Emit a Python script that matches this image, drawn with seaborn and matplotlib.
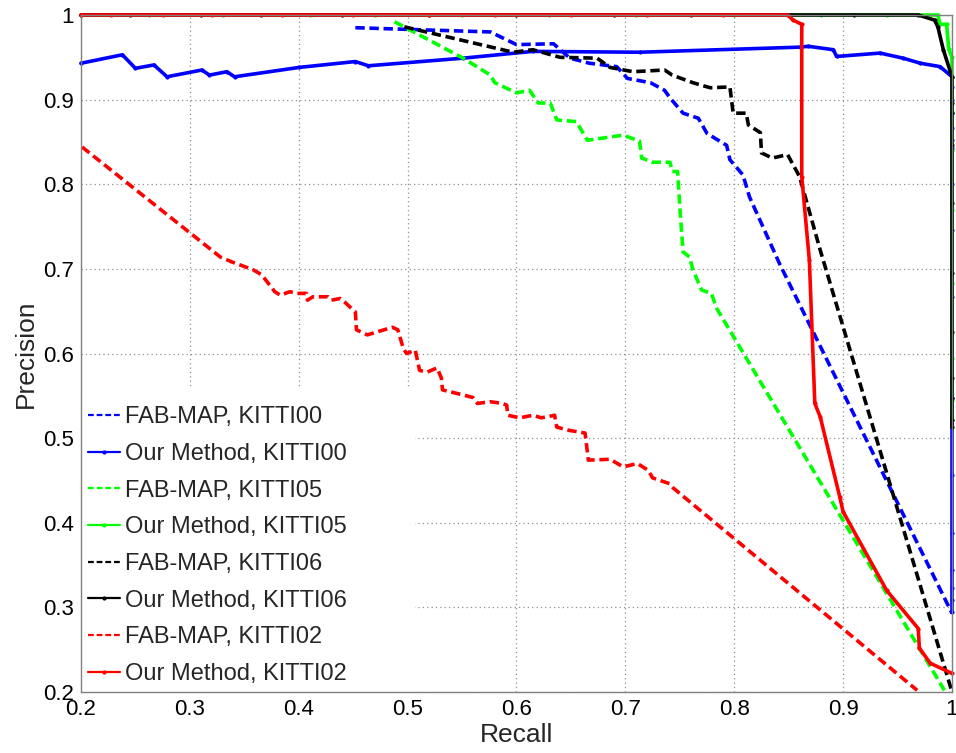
import matplotlib
matplotlib.use("Agg")
import matplotlib.pyplot as plt
import seaborn as sns
import pandas as pd
from matplotlib.patches import Rectangle

# ---- data (recall, precision) ----
fab00_recall = [0.452, 0.500, 0.576, 0.600, 0.634, 0.649, 0.667, 0.692, 0.702, 0.723,
                0.736, 0.741, 0.753, 0.767, 0.775, 0.793, 0.796, 0.808, 0.814, 0.842, 1.000]
fab00_prec = [0.985, 0.983, 0.980, 0.965, 0.966, 0.949, 0.943, 0.939, 0.925, 0.920,
              0.911, 0.902, 0.884, 0.878, 0.860, 0.846, 0.829, 0.811, 0.785, 0.705, 0.293]

our00_recall = [0.200, 0.238, 0.250, 0.267, 0.279, 0.311, 0.318, 0.334, 0.341, 0.400,
                0.452, 0.464, 0.551, 0.615, 0.713, 0.860, 0.868, 0.891, 0.894, 0.934,
                0.955, 0.971, 0.989, 1.000, 1.000, 1.000, 1.000, 1.000, 1.000, 1.000,
                1.000, 1.000, 1.000, 1.000, 1.000, 1.000, 1.000, 1.000, 1.000, 1.000]
our00_prec = [0.943, 0.953, 0.937, 0.941, 0.927, 0.935, 0.929, 0.933, 0.927, 0.938,
              0.945, 0.940, 0.949, 0.957, 0.956, 0.962, 0.963, 0.959, 0.951, 0.955,
              0.949, 0.943, 0.939, 0.927, 0.915, 0.900, 0.884, 0.866, 0.852, 0.843,
              0.800, 0.746, 0.667, 0.548, 0.456, 0.388, 0.344, 0.323, 0.309, 0.294]

fab05_recall = [0.488, 0.551, 0.576, 0.580, 0.600, 0.612, 0.620, 0.631, 0.637, 0.655,
                0.665, 0.698, 0.713, 0.715, 0.725, 0.741, 0.743, 0.748, 0.750, 0.753,
                0.759, 0.762, 0.770, 0.779, 0.784, 0.993]
fab05_prec = [0.992, 0.949, 0.929, 0.920, 0.908, 0.911, 0.896, 0.896, 0.876, 0.874,
              0.852, 0.858, 0.851, 0.831, 0.826, 0.826, 0.815, 0.815, 0.773, 0.720,
              0.714, 0.699, 0.675, 0.671, 0.653, 0.202]

our05_recall = [0.200, 0.262, 0.330, 0.410, 0.470, 0.550, 0.630, 0.710, 0.800, 0.880,
                0.940, 0.987, 0.989, 0.995, 0.997, 1.000, 1.000, 1.000, 1.000, 1.000,
                1.000, 1.000, 1.000]
our05_prec = [1.000, 1.000, 1.000, 1.000, 1.000, 1.000, 1.000, 1.000, 1.000, 1.000,
              1.000, 1.000, 0.989, 0.989, 0.960, 0.950, 0.885, 0.840, 0.770, 0.683,
              0.595, 0.545, 0.521]

fab06_recall = [0.497, 0.597, 0.615, 0.640, 0.674, 0.686, 0.707, 0.736, 0.743, 0.762,
                0.778, 0.796, 0.799, 0.811, 0.813, 0.824, 0.825, 0.835, 0.849, 0.860,
                0.879, 1.000]
fab06_prec = [0.986, 0.956, 0.959, 0.950, 0.949, 0.938, 0.933, 0.935, 0.929, 0.920,
              0.914, 0.915, 0.884, 0.884, 0.870, 0.861, 0.837, 0.831, 0.835, 0.809,
              0.722, 0.200]

our06_recall = [0.200, 0.245, 0.310, 0.365, 0.440, 0.520, 0.600, 0.690, 0.760, 0.850,
                0.910, 0.969, 0.984, 0.987, 0.992, 1.000, 1.000, 1.000, 1.000, 1.000,
                1.000, 1.000, 1.000, 1.000, 1.000, 1.000]
our06_prec = [1.000, 1.000, 1.000, 1.000, 1.000, 1.000, 1.000, 1.000, 1.000, 1.000,
              1.000, 1.000, 0.994, 0.986, 0.959, 0.927, 0.896, 0.884, 0.846, 0.778,
              0.695, 0.625, 0.571, 0.547, 0.521, 0.513]

fab02_recall = [0.201, 0.328, 0.339, 0.358, 0.366, 0.378, 0.383, 0.392, 0.398, 0.407,
                0.408, 0.413, 0.427, 0.430, 0.438, 0.442, 0.452, 0.453, 0.463, 0.486,
                0.491, 0.496, 0.499, 0.507, 0.511, 0.518, 0.527, 0.531, 0.532, 0.551,
                0.560, 0.564, 0.576, 0.587, 0.591, 0.592, 0.603, 0.615, 0.623, 0.635,
                0.637, 0.649, 0.663, 0.666, 0.686, 0.698, 0.711, 0.721, 0.725, 0.741,
                0.744, 0.968]
fab02_prec = [0.844, 0.714, 0.708, 0.699, 0.693, 0.673, 0.669, 0.673, 0.671, 0.671,
              0.663, 0.667, 0.667, 0.663, 0.665, 0.661, 0.649, 0.628, 0.622, 0.631,
              0.628, 0.606, 0.600, 0.604, 0.580, 0.578, 0.583, 0.571, 0.557, 0.551,
              0.548, 0.541, 0.543, 0.541, 0.539, 0.527, 0.524, 0.527, 0.524, 0.527,
              0.513, 0.509, 0.506, 0.474, 0.475, 0.466, 0.470, 0.462, 0.453, 0.446,
              0.441, 0.202]

our02_recall = [0.200, 0.228, 0.275, 0.320, 0.385, 0.450, 0.520, 0.580, 0.650, 0.720,
                0.790, 0.849, 0.854, 0.862, 0.862, 0.869, 0.874, 0.879, 0.897, 0.900,
                0.940, 0.969, 0.970, 0.980, 1.000]
our02_prec = [1.000, 1.000, 1.000, 1.000, 1.000, 1.000, 1.000, 1.000, 1.000, 1.000,
              1.000, 1.000, 0.994, 0.989, 0.809, 0.710, 0.541, 0.525, 0.430, 0.413,
              0.320, 0.275, 0.252, 0.234, 0.222]

labels = ["FAB-MAP, KITTI00", "Our Method, KITTI00",
          "FAB-MAP, KITTI05", "Our Method, KITTI05",
          "FAB-MAP, KITTI06", "Our Method, KITTI06",
          "FAB-MAP, KITTI02", "Our Method, KITTI02"]
recalls = [fab00_recall, our00_recall, fab05_recall, our05_recall,
           fab06_recall, our06_recall, fab02_recall, our02_recall]
precisions = [fab00_prec, our00_prec, fab05_prec, our05_prec,
              fab06_prec, our06_prec, fab02_prec, our02_prec]
colors = ["#0000ff", "#0000ff", "#00ff00", "#00ff00",
          "#000000", "#000000", "#ff0000", "#ff0000"]
ticks = [0.2, 0.3, 0.4, 0.5, 0.6, 0.7, 0.8, 0.9, 1.0]
tick_labels = ["0.2", "0.3", "0.4", "0.5", "0.6", "0.7", "0.8", "0.9", "1"]

sns.set_theme(style="white")
plt.rcParams["font.family"] = ["Liberation Sans", "DejaVu Sans"]

fig = plt.figure(figsize=(9.56, 7.53), dpi=100)
ax = fig.add_axes([81 / 956, 61 / 753, 871 / 956, 677 / 753])

for lab, r, p, c in zip(labels, recalls, precisions, colors):
    df = pd.DataFrame({"Recall": r, "Precision": p})
    dashed = lab.startswith("FAB")
    sns.lineplot(data=df, x="Recall", y="Precision", sort=False, estimator=None,
                 color=c, lw=2.6, label=lab, ax=ax,
                 marker=None if dashed else ".", markersize=6,
                 markeredgewidth=0, clip_on=False)
    line = ax.lines[-1]
    if dashed:
        line.set_dashes((2.6, 1.3))

ax.set_xlim(0.2, 1.0)
ax.set_ylim(0.2, 1.0)
ax.set_xticks(ticks)
ax.set_xticklabels(tick_labels)
ax.set_yticks(ticks)
ax.set_yticklabels(tick_labels)
ax.tick_params(direction="in", length=5, width=1, color="#808080",
               labelsize=16, labelcolor="black", pad=5)
ax.grid(True, linestyle=(0, (1, 2.5)), color="#909090", linewidth=0.9)
ax.set_axisbelow(True)
for s in ax.spines.values():
    s.set_color("#808080")
    s.set_linewidth(1.0)

ax.set_xlabel("Recall", fontsize=19, labelpad=2)
ax.set_ylabel("Precision", fontsize=19, labelpad=4)

# white box behind the legend, covering the grid like the original
ax.add_patch(Rectangle((0, 0), 0.383, 0.45, transform=ax.transAxes,
                       facecolor="white", edgecolor="none", zorder=1.5))
leg = ax.legend(loc="lower left", frameon=False, fontsize=17,
                handlelength=1.35, handletextpad=0.2, labelspacing=0.62,
                borderaxespad=0.1, borderpad=0.2)
for h in leg.get_lines():
    h.set_linewidth(1.6)

fig.savefig("out.png", dpi=100)
